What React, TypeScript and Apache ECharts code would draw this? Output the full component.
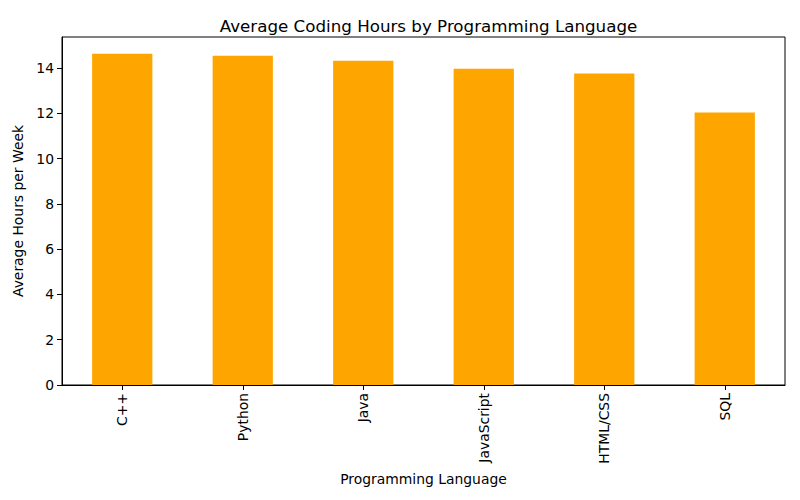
import React, { useEffect, useRef } from "react";
import * as echarts from "echarts";

const categories = ["C++", "Python", "Java", "JavaScript", "HTML/CSS", "SQL"];
const avgHours = [14.63, 14.54, 14.32, 13.97, 13.76, 12.03];
const yTicks = [0, 2, 4, 6, 8, 10, 12, 14];

export default function App() {
  const ref = useRef<HTMLDivElement>(null);
  useEffect(() => {
    if (!ref.current) return;
    const chart = echarts.init(ref.current, null, { renderer: "svg" });
    const font = "DejaVu Sans";
    chart.setOption({
      animation: false,
      backgroundColor: "#ffffff",
      title: {
        text: "Average Coding Hours by Programming Language",
        left: 423.5,
        textAlign: "center",
        top: 12,
        textStyle: { fontFamily: font, fontSize: 16.7, fontWeight: "normal", color: "#000" },
      },
      grid: {
        left: 62,
        right: 15,
        top: 37,
        bottom: 115,
        show: true,
        borderColor: "#000",
        borderWidth: 1,
        backgroundColor: "transparent",
      },
      xAxis: {
        type: "category",
        data: categories,
        name: "Programming Language",
        nameLocation: "middle",
        nameGap: 86,
        nameTextStyle: { fontFamily: font, fontSize: 13.9, color: "#000" },
        axisLine: { show: true, lineStyle: { color: "#000" } },
        axisTick: { show: true, alignWithLabel: true, length: 5, lineStyle: { color: "#000" } },
        axisLabel: { rotate: 90, fontFamily: font, fontSize: 13.9, color: "#000", margin: 8 },
      },
      yAxis: {
        type: "value",
        min: 0,
        max: 15.37,
        interval: 2,
        name: "Average Hours per Week",
        nameLocation: "middle",
        nameGap: 34,
        nameTextStyle: { fontFamily: font, fontSize: 13.9, color: "#000" },
        axisLine: { show: true, lineStyle: { color: "#000" } },
        axisTick: { show: true, length: 5, customValues: yTicks, lineStyle: { color: "#000" } },
        axisLabel: {
          fontFamily: font,
          fontSize: 13.9,
          color: "#000",
          margin: 8,
          customValues: yTicks,
        },
        splitLine: { show: false },
      },
      series: [
        {
          type: "bar",
          data: avgHours,
          barWidth: "50%",
          itemStyle: { color: "#FFA500" },
        },
      ],
    });
    return () => chart.dispose();
  }, []);
  return (
    <div
      ref={ref}
      style={{ position: "fixed", left: 0, top: 0, width: 800, height: 500 }}
    />
  );
}
